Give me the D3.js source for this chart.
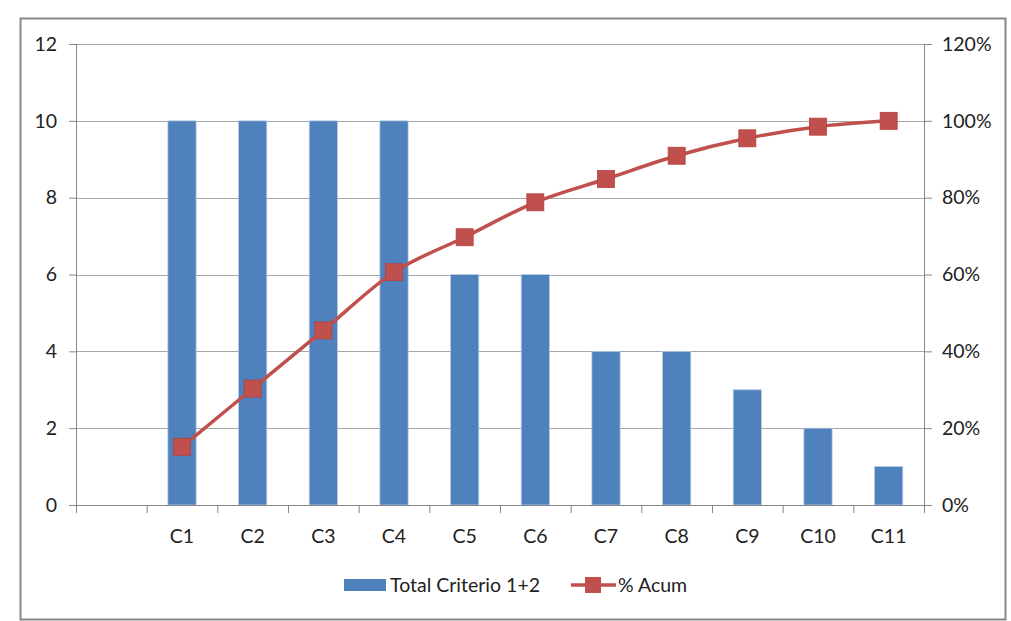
<!DOCTYPE html>
<html>
<head>
<meta charset="utf-8">
<script src="https://cdn.jsdelivr.net/npm/d3@7"></script>
<style>
  body { margin: 0; background: #fff; }
  text { font-family: Lato, "Open Sans", sans-serif; fill: #222; }
</style>
</head>
<body>
<div id="chart"></div>
<script>
// categories (first slot is blank in the original)
var categories = ["", "C1", "C2", "C3", "C4", "C5", "C6", "C7", "C8", "C9", "C10", "C11"];
var totals = [null, 10, 10, 10, 10, 6, 6, 4, 4, 3, 2, 1];
var pctAcum = [null, 15.15, 30.30, 45.45, 60.61, 69.70, 78.79, 84.85, 90.91, 95.45, 98.48, 100];
var leftTicks = [0, 2, 4, 6, 8, 10, 12];
var rightTicks = [0, 20, 40, 60, 80, 100, 120];

var W = 1011, H = 621;
var margin = {top: 44, right: 87, bottom: 116, left: 76},
    width = W - margin.left - margin.right,
    height = H - margin.top - margin.bottom;
var fs = "19.5px";

var svg = d3.select("#chart").append("svg")
    .attr("width", W)
    .attr("height", H);

// outer frame
svg.append("rect")
    .attr("x", 20.5).attr("y", 18.5)
    .attr("width", 985).attr("height", 601)
    .attr("fill", "none")
    .attr("stroke", "#888")
    .attr("stroke-width", 2);

var g = svg.append("g")
    .attr("transform", "translate(" + margin.left + "," + margin.top + ")");

var xSlot = d3.scaleLinear().domain([0, categories.length]).range([0, width]);
var y = d3.scaleLinear().domain([0, 12]).range([height, 0]);
var y2 = d3.scaleLinear().domain([0, 120]).range([height, 0]);

// gridlines
g.selectAll(".grid").data(leftTicks.slice(1)).enter().append("line")
    .attr("x1", 0).attr("x2", width)
    .attr("y1", function(d){ return Math.round(y(d)) + 0.5; })
    .attr("y2", function(d){ return Math.round(y(d)) + 0.5; })
    .attr("stroke", "#a6a6a6").attr("stroke-width", 1);

// bars
var bandW = xSlot(1) - xSlot(0);
var barW = bandW * 0.4;
g.selectAll(".bar").data(totals.map(function(v, i){ return {i: i, v: v}; }).filter(function(d){ return d.v != null; }))
  .enter().append("rect")
    .attr("x", function(d){ return xSlot(d.i) + (bandW - barW) / 2; })
    .attr("y", function(d){ return y(d.v); })
    .attr("width", barW)
    .attr("height", function(d){ return height - y(d.v); })
    .attr("fill", "#4f81bd")
    .attr("stroke", "#b9cde5")
    .attr("stroke-width", 0.8);

// axes
var yAxis = d3.axisLeft(y).tickValues(leftTicks).tickSize(7).tickPadding(12);
var yAxis2 = d3.axisRight(y2).tickValues(rightTicks).tickSize(8).tickPadding(10)
    .tickFormat(function(d){ return d + "%"; });
var xAxis = d3.axisBottom(xSlot).tickValues(d3.range(categories.length + 1))
    .tickSize(8).tickFormat("");

function styleAxis(sel) {
  sel.select(".domain").attr("stroke", "#868686");
  sel.selectAll(".tick line").attr("stroke", "#868686");
  sel.selectAll("text").style("font-size", fs).attr("fill", "#222");
}

g.append("g").call(yAxis).call(styleAxis);
g.append("g").attr("transform", "translate(" + width + ",0)").call(yAxis2).call(styleAxis);
g.append("g").attr("transform", "translate(0," + height + ")").call(xAxis).call(styleAxis);

// category labels
g.selectAll(".cat").data(categories).enter().append("text")
    .attr("x", function(d, i){ return xSlot(i) + bandW / 2; })
    .attr("y", height + 38)
    .attr("text-anchor", "middle")
    .style("font-size", fs)
    .text(function(d){ return d; });

// cumulative line
var pts = pctAcum.map(function(v, i){ return {i: i, v: v}; }).filter(function(d){ return d.v != null; });
var line = d3.line()
    .x(function(d){ return xSlot(d.i) + bandW / 2; })
    .y(function(d){ return y2(d.v); })
    .curve(d3.curveMonotoneX);
g.append("path").datum(pts)
    .attr("d", line)
    .attr("fill", "none")
    .attr("stroke", "#c0504d")
    .attr("stroke-width", 3.5);

var ms = 17;
g.selectAll(".mk").data(pts).enter().append("rect")
    .attr("x", function(d){ return xSlot(d.i) + bandW / 2 - ms / 2; })
    .attr("y", function(d){ return y2(d.v) - ms / 2; })
    .attr("width", ms).attr("height", ms)
    .attr("fill", "#c0504d")
    .attr("stroke", "#b7403d").attr("stroke-width", 0.8);

// legend
var lg = svg.append("g").attr("transform", "translate(0,585)");
lg.append("rect").attr("x", 344).attr("y", -6).attr("width", 42).attr("height", 12).attr("fill", "#4f81bd");
lg.append("text").attr("x", 390).attr("y", 0).attr("dy", "0.35em").style("font-size", fs).text("Total Criterio 1+2");
lg.append("line").attr("x1", 571).attr("x2", 616).attr("y1", 0).attr("y2", 0)
    .attr("stroke", "#c0504d").attr("stroke-width", 3.5);
lg.append("rect").attr("x", 585).attr("y", -8).attr("width", 16).attr("height", 16).attr("fill", "#c0504d");
lg.append("text").attr("x", 618).attr("y", 0).attr("dy", "0.35em").style("font-size", fs).text("% Acum");
</script>
</body>
</html>
